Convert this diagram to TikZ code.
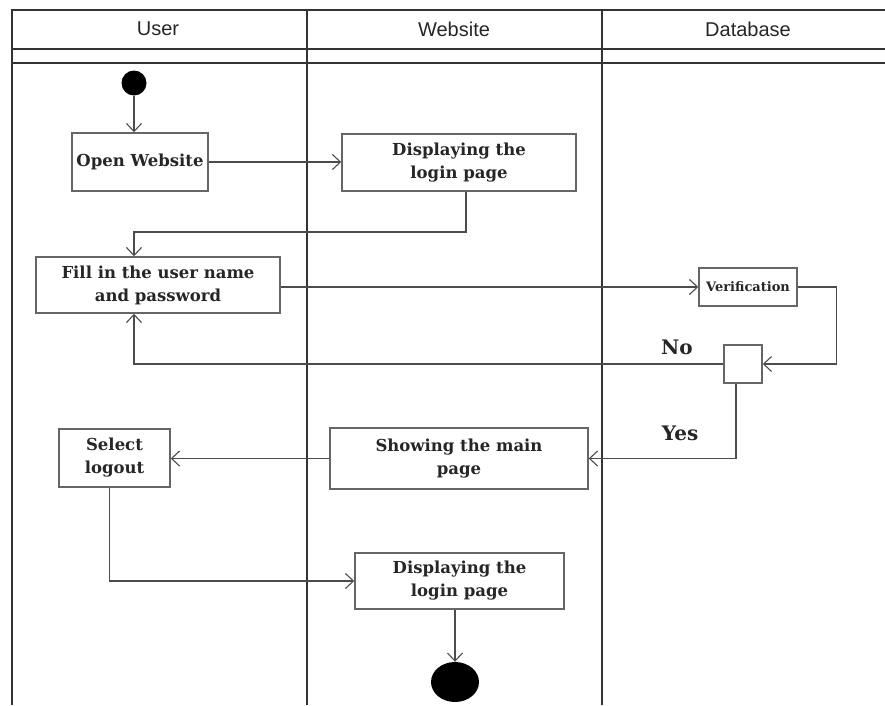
\documentclass[tikz,border=0pt]{standalone}
\usepackage{fontspec}
\newfontfamily\lanefont{Liberation Sans}
\newfontfamily\actfont{DejaVu Serif}
\usetikzlibrary{arrows.meta}
\usetikzlibrary{shapes.geometric}
\begin{document}
\begin{tikzpicture}[x=1pt,y=-1pt,
  act/.style={draw=black!60, line width=1.5pt, fill=white, align=center, inner sep=0pt,
    font=\actfont\fontsize{16.5}{23}\selectfont\bfseries, text=black!85},
  flow/.style={draw=black!70, line width=1.1pt, -{Straight Barb[length=8pt,width=15pt,line width=1.1pt]}},
  lane/.style={black!80, line width=1.3pt},
  lanehead/.style={font=\lanefont\fontsize{20}{20}\selectfont, text=black!85},
  guard/.style={font=\actfont\fontsize{20}{20}\selectfont\bfseries, text=black!85}]
\useasboundingbox (0,0) rectangle (885,705);
% the lanes
\draw[lane] (12,705) -- (12,10) -- (885,10);
\draw[lane] (12,49) -- (885,49);
\draw[lane] (12,63) -- (885,63);
\draw[lane] (307,10) -- (307,705);
\draw[lane] (602,10) -- (602,705);
\node[lanehead] (user) at (158,29) {User};
\node[lanehead] (site) at (454,29) {Website};
\node[lanehead] (db) at (748,29) {Database};
% start and stop
\node[circle, fill=black, minimum size=25pt, inner sep=0pt] (start) at (134,83) {};
\node[ellipse, fill=black, minimum width=48pt, minimum height=40pt, inner sep=0pt] (stop) at (455,682) {};
% the activities
%     user lane
\node[act, minimum width=136pt, minimum height=58pt] (open) at (140,162) {Open Website};
\node[act, minimum width=244pt, minimum height=56pt] (fill) at (158,285) {Fill in the user name\\and password};
\node[act, minimum width=111pt, minimum height=58pt] (logout) at (114.5,458) {Select\\logout};
%     website lane
\node[act, minimum width=234pt, minimum height=57pt] (disp1) at (459,162.5) {Displaying the\\login page};
\node[act, minimum width=258pt, minimum height=61pt] (main) at (459,458.5) {Showing the main\\page};
\node[act, minimum width=209pt, minimum height=56pt] (disp2) at (459.5,581) {Displaying the\\login page};
%     database lane
\node[act, minimum width=98pt, minimum height=38pt, font=\actfont\fontsize{13}{13}\selectfont\bfseries] (verif) at (748,287) {Verification};
\node[act, minimum width=38pt, minimum height=38pt] (dec) at (743,364) {};
\node[guard] (no) at (677,347) {No};
\node[guard] (yes) at (680,433) {Yes};
% the flows
\coordinate (bend1) at (134,232);
\draw[flow] (start) -- (start |- open.north);
\draw[flow] (open.east) -- (open.east -| disp1.west);
\draw[flow] ([xshift=7pt]disp1.south) |- (bend1) -- (bend1 |- fill.north);
\draw[flow] (fill.east |- verif) -- (verif.west);
\draw[flow] (verif.east) -- ++(39,0) |- (dec.east);
\draw[flow] (dec.west) -| (bend1 |- fill.south);
\draw[flow] ([xshift=-7pt]dec.south) |- (main.east);
\draw[flow] (main.west) -- (main.west -| logout.east);
\draw[flow] ([xshift=-5pt]logout.south) |- (disp2.west);
\draw[flow] (disp2.south -| stop) -- (stop.north);
\end{tikzpicture}
\end{document}
